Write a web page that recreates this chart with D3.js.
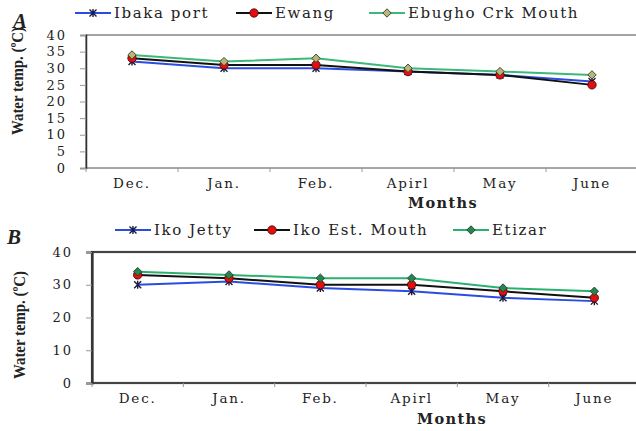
<!DOCTYPE html>
<html>
<head>
<meta charset="utf-8">
<script src="https://cdn.jsdelivr.net/npm/d3@7"></script>
<style>
  body { margin: 0; background: #fff; }
  svg { display: block; }
  text { font-family: "DejaVu Serif", serif; fill: #222; }
</style>
</head>
<body>
<script>
var w = 636, h = 431;

var months = ["Dec.", "Jan.", "Feb.", "Apirl", "May", "June"];

// panel A
var ibakaPort = [32, 30, 30, 29, 28, 26];
var ewang = [33, 31, 31, 29, 28, 25];
var ebughoCrk = [34, 32, 33, 30, 29, 28];
var ticksA = [0, 5, 10, 15, 20, 25, 30, 35, 40];

// panel B
var ikoJetty = [30, 31, 29, 28, 26, 25];
var ikoEstMouth = [33, 32, 30, 30, 28, 26];
var etizar = [34, 33, 32, 32, 29, 28];
var ticksB = [0, 10, 20, 30, 40];

var svg = d3.select("body").append("svg")
    .attr("width", w)
    .attr("height", h)

function marker(g, type, x, y) {
  if (type == "star") {
    var s = 3.5;
    g.append("path")
      .attr("d", "M" + (x - s) + "," + (y - s) + "L" + (x + s) + "," + (y + s) +
                 "M" + (x - s) + "," + (y + s) + "L" + (x + s) + "," + (y - s) +
                 "M" + x + "," + (y - s - 0.5) + "L" + x + "," + (y + s + 0.5))
      .attr("stroke", "#1a1a40").attr("stroke-width", 1.4).attr("fill", "none");
  } else if (type == "circle") {
    g.append("circle").attr("cx", x).attr("cy", y).attr("r", 4.2)
      .attr("fill", "#e01010").attr("stroke", "#400").attr("stroke-width", 0.8);
  } else {
    var d = 4.2;
    g.append("path")
      .attr("d", "M" + x + "," + (y - d) + "L" + (x + d) + "," + y + "L" + x + "," + (y + d) + "L" + (x - d) + "," + y + "Z")
      .attr("fill", type).attr("stroke", "#333").attr("stroke-width", 0.9);
  }
}

function panel(opt) {
  var g = svg.append("g");

  var x = d3.scaleBand().domain(months).range([opt.left, opt.right]);
  var y = d3.scaleLinear().domain([0, 40]).range([opt.bottom, opt.top]);

  // frame
  g.append("rect")
    .attr("x", opt.left).attr("y", opt.top)
    .attr("width", opt.right - opt.left).attr("height", opt.bottom - opt.top)
    .attr("fill", "none").attr("stroke", opt.frame).attr("stroke-width", opt.frameW);

  var ya = g.append("g")
    .attr("transform", "translate(" + opt.left + ",0)")
    .call(d3.axisLeft(y).tickValues(opt.ticks).tickSize(6).tickPadding(13));
  ya.select(".domain").attr("stroke", "#333").attr("stroke-width", opt.frameW);
  ya.selectAll(".tick line").attr("stroke", "#999");
  ya.selectAll("text").attr("font-size", 13).attr("letter-spacing", 2).attr("fill", "#222");

  var xa = g.append("g")
    .attr("transform", "translate(0," + opt.bottom + ")")
    .call(d3.axisBottom(x).tickSize(0).tickPadding(10));
  xa.select(".domain").remove();
  xa.selectAll("text").attr("font-size", 13.5).attr("letter-spacing", 1.8).attr("fill", "#222");

  // category boundary ticks
  g.selectAll(".bt").data(months).enter().append("line")
    .attr("x1", function(d) { return x(d); }).attr("x2", function(d) { return x(d); })
    .attr("y1", opt.bottom).attr("y2", opt.bottom + 4)
    .attr("stroke", "#999");

  var line = d3.line()
    .x(function(d, i) { return x(months[i]) + x.bandwidth() / 2; })
    .y(function(d) { return y(d); });

  opt.series.forEach(function(s) {
    g.append("path").attr("d", line(s.values))
      .attr("fill", "none").attr("stroke", s.color).attr("stroke-width", 2);
  });
  opt.series.forEach(function(s) {
    s.values.forEach(function(v, i) {
      marker(g, s.marker, x(months[i]) + x.bandwidth() / 2, y(v));
    });
  });

  // legend
  opt.series.forEach(function(s, i) {
    var lx = opt.legendX[i], ly = opt.legendY;
    g.append("line").attr("x1", lx).attr("x2", lx + 36).attr("y1", ly).attr("y2", ly)
      .attr("stroke", s.color).attr("stroke-width", 2);
    marker(g, s.marker, lx + 18, ly);
    g.append("text").attr("x", lx + 39).attr("y", ly + 5)
      .attr("font-size", 15).attr("letter-spacing", 1.6).text(s.name);
  });

  g.append("text")
    .attr("transform", "translate(" + opt.ytitleX + "," + opt.ytitleY + ") rotate(-90)")
    .attr("text-anchor", "middle")
    .style("font-family", "Liberation Serif").style("font-weight", "bold")
    .attr("font-size", 17)
    .attr("textLength", 108).attr("lengthAdjust", "spacingAndGlyphs")
    .text("Water temp. (ºC)");

  g.append("text")
    .attr("x", opt.monthsX).attr("y", opt.monthsY)
    .attr("text-anchor", "middle").attr("font-weight", "bold")
    .attr("font-size", 14.5).attr("letter-spacing", 1.4)
    .text("Months");

  g.append("text")
    .attr("x", opt.letterX).attr("y", opt.letterY)
    .style("font-family", "Liberation Serif").style("font-weight", "bold").style("font-style", "italic")
    .attr("font-size", 21)
    .text(opt.letter);
}

panel({
  left: 86, right: 638, top: 35, bottom: 168, ticks: ticksA,
  frame: "#888", frameW: 1.5,
  legendX: [75, 236, 369], legendY: 13,
  ytitleX: 23, ytitleY: 81, monthsX: 443, monthsY: 208,
  letter: "A", letterX: 13, letterY: 28,
  series: [
    { name: "Ibaka port", values: ibakaPort, color: "#2a4de0", marker: "star" },
    { name: "Ewang", values: ewang, color: "#111", marker: "circle" },
    { name: "Ebugho Crk Mouth", values: ebughoCrk, color: "#3cb878", marker: "#b8b874" }
  ]
});

panel({
  left: 92, right: 640, top: 252, bottom: 383, ticks: ticksB,
  frame: "#444", frameW: 2.2,
  legendX: [115, 254, 453], legendY: 230,
  ytitleX: 25, ytitleY: 325, monthsX: 452, monthsY: 424,
  letter: "B", letterX: 7, letterY: 244,
  series: [
    { name: "Iko Jetty", values: ikoJetty, color: "#2a4de0", marker: "star" },
    { name: "Iko Est. Mouth", values: ikoEstMouth, color: "#111", marker: "circle" },
    { name: "Etizar", values: etizar, color: "#2cb070", marker: "#1f8a4a" }
  ]
});
</script>
</body>
</html>
